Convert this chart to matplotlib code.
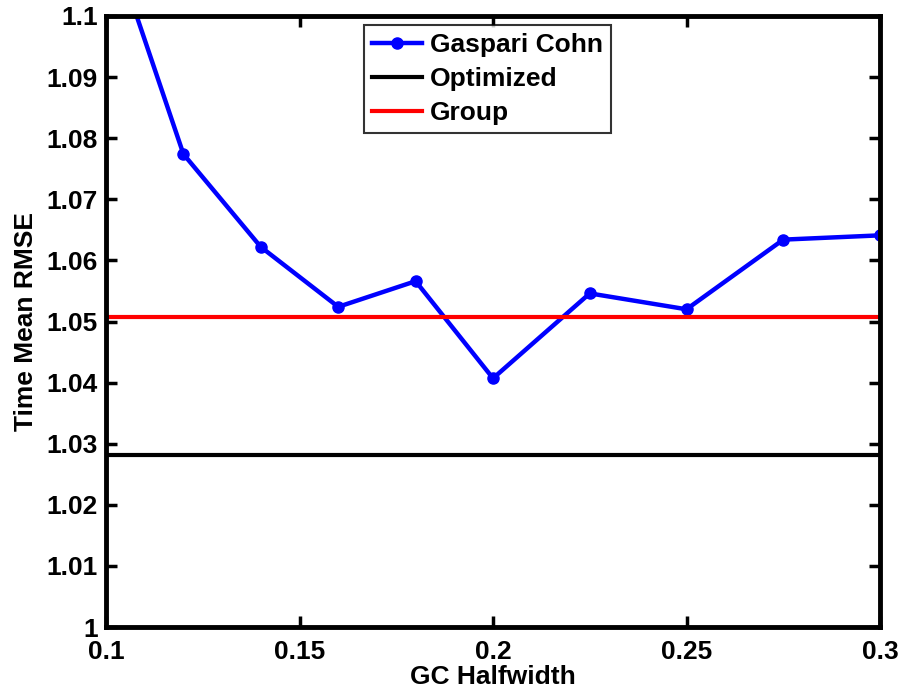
import matplotlib
matplotlib.use("Agg")
import matplotlib.pyplot as plt

plt.rcParams['font.family'] = ['Liberation Sans', 'DejaVu Sans']
plt.rcParams['font.weight'] = 'bold'

halfwidth = [0.1, 0.12, 0.14, 0.16, 0.18, 0.2, 0.225, 0.25, 0.275, 0.3]
gc_rmse = [1.1148, 1.0774, 1.0622, 1.0524, 1.0566, 1.0407, 1.0546, 1.0520, 1.0634, 1.0641]
optimized_rmse = 1.0281
group_rmse = 1.0508

xticks = [0.1, 0.15, 0.2, 0.25, 0.3]
xticklabels = ['0.1', '0.15', '0.2', '0.25', '0.3']
yticks = [1.0, 1.01, 1.02, 1.03, 1.04, 1.05, 1.06, 1.07, 1.08, 1.09, 1.1]
yticklabels = ['1', '1.01', '1.02', '1.03', '1.04', '1.05', '1.06', '1.07', '1.08', '1.09', '1.1']

fig = plt.figure(figsize=(9, 6.92), dpi=100)
ax = fig.add_axes([0.1178, 0.0939, 0.86, 0.883])

ax.plot(halfwidth, gc_rmse, color='#0000ff', lw=3.2, marker='o', ms=8, label='Gaspari Cohn')
ax.axhline(optimized_rmse, color='black', lw=3, label='Optimized')
ax.axhline(group_rmse, color='#ff0000', lw=3, label='Group')

ax.set_xlim(0.1, 0.3)
ax.set_ylim(1.0, 1.1)
ax.set_xticks(xticks)
ax.set_xticklabels(xticklabels)
ax.set_yticks(yticks)
ax.set_yticklabels(yticklabels)
ax.tick_params(direction='in', length=8, width=2.5, labelsize=19, pad=6,
               top=True, right=True)
ax.tick_params(axis='x', pad=9)
for s in ax.spines.values():
    s.set_linewidth(3.5)

ax.set_xlabel('GC Halfwidth', fontsize=19, fontweight='bold', labelpad=1)
ax.set_ylabel('Time Mean RMSE', fontsize=19, fontweight='bold', labelpad=6)

leg = ax.legend(loc='upper left', bbox_to_anchor=(0.333, 0.985), fontsize=19,
                frameon=True, fancybox=False, edgecolor='black', handlelength=1.9,
                borderpad=0.3, labelspacing=0.38, handletextpad=0.3, borderaxespad=0)
leg.get_frame().set_linewidth(1.5)

fig.savefig('out.png', dpi=100)
